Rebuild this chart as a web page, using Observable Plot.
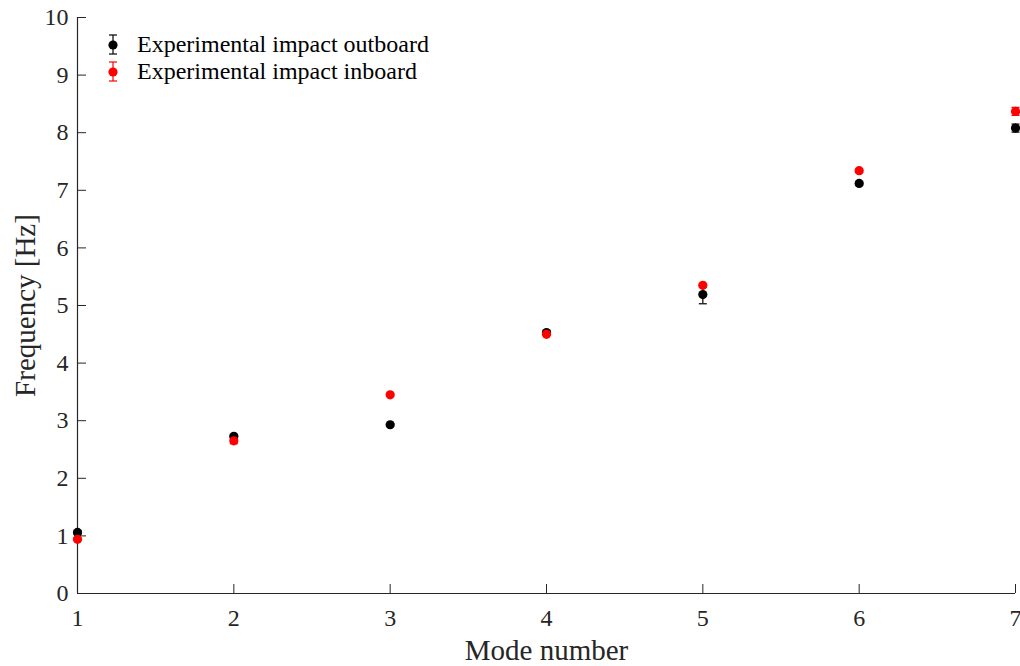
<!DOCTYPE html>
<html>
<head>
<meta charset="utf-8">
<script src="https://cdn.jsdelivr.net/npm/d3@7"></script>
<script src="https://cdn.jsdelivr.net/npm/@observablehq/plot@0.6"></script>
<style>
body { margin: 0; background: #fff; }
#wrap { position: relative; width: 1020px; height: 666px; font-family: "Liberation Serif", "Times New Roman", serif; }
#legend { position: absolute; left: 0; top: 0; }
</style>
</head>
<body>
<div id="wrap"></div>
<script>
const modes = [1, 2, 3, 4, 5, 6, 7];
const outboardFreq = [1.06, 2.73, 2.93, 4.53, 5.19, 7.12, 8.08];
const outboardErr = [0.03, 0.03, 0.02, 0.03, 0.16, 0.03, 0.07];
const inboardFreq = [0.94, 2.65, 3.45, 4.50, 5.35, 7.34, 8.37];
const inboardErr = [0.02, 0.05, 0.02, 0.02, 0.03, 0.03, 0.07];
const seriesNames = ["Experimental impact outboard", "Experimental impact inboard"];
const seriesColors = ["#000000", "#ff0000"];
const xTicks = [1, 2, 3, 4, 5, 6, 7];
const yTicks = [0, 1, 2, 3, 4, 5, 6, 7, 8, 9, 10];

const rows = [];
[[outboardFreq, outboardErr], [inboardFreq, inboardErr]].forEach(([f, e], s) => {
  modes.forEach((m, i) => rows.push({series: seriesNames[s], mode: m, freq: f[i], err: e[i]}));
});

const cap = {draw(ctx, size) { const r = Math.sqrt(size / Math.PI); ctx.moveTo(-r, 0); ctx.lineTo(r, 0); }};
const axisColor = "#262626";

const chart = Plot.plot({
  width: 1020,
  height: 666,
  marginLeft: 77,
  marginRight: 5,
  marginTop: 17,
  marginBottom: 73,
  style: {fontFamily: "'Liberation Serif', 'Times New Roman', serif", background: "#fff", color: axisColor},
  x: {domain: [1, 7], ticks: xTicks, tickFormat: d3.format("d"), label: null},
  y: {domain: [0, 10], ticks: yTicks, tickFormat: d3.format("d"), label: null},
  color: {domain: seriesNames, range: seriesColors},
  marks: [
    Plot.ruleX([1], {stroke: axisColor, strokeWidth: 1.2}),
    Plot.ruleY([0], {stroke: axisColor, strokeWidth: 1.2}),
    Plot.axisX({ticks: xTicks, tickSize: -9, tickPadding: 24, fontSize: 24, stroke: axisColor, fill: axisColor, tickFormat: d3.format("d"), label: null}),
    Plot.axisY({ticks: yTicks, tickSize: -9, tickPadding: 18, fontSize: 24, stroke: axisColor, fill: axisColor, tickFormat: d3.format("d"), label: null}),
    Plot.ruleX(rows, {x: "mode", y1: d => d.freq - d.err, y2: d => d.freq + d.err, stroke: "series", strokeWidth: 1.2}),
    Plot.dot(rows, {x: "mode", y: d => d.freq - d.err, symbol: cap, r: 4, stroke: "series", strokeWidth: 1.2}),
    Plot.dot(rows, {x: "mode", y: d => d.freq + d.err, symbol: cap, r: 4, stroke: "series", strokeWidth: 1.2}),
    Plot.dot(rows, {x: "mode", y: "freq", fill: "series", r: 4.6}),
    Plot.text(["Mode number"], {frameAnchor: "bottom", textAnchor: "middle", dy: 66, fontSize: 29, fill: axisColor}),
    Plot.text(["Frequency [Hz]"], {frameAnchor: "left", textAnchor: "middle", dx: -52, rotate: -90, fontSize: 29, fill: axisColor})
  ]
});
document.getElementById("wrap").appendChild(chart);

// legend
const ns = "http://www.w3.org/2000/svg";
const leg = document.createElementNS(ns, "svg");
leg.setAttribute("id", "legend");
leg.setAttribute("width", 460);
leg.setAttribute("height", 100);
seriesNames.forEach((name, i) => {
  const cy = 45 + i * 27;
  const c = seriesColors[i];
  const g = document.createElementNS(ns, "g");
  g.innerHTML = `<line x1="113" x2="113" y1="${cy - 10}" y2="${cy + 9}" stroke="${c}" stroke-width="1.2"/>
    <line x1="109" x2="117" y1="${cy - 10}" y2="${cy - 10}" stroke="${c}" stroke-width="1.2"/>
    <line x1="109" x2="117" y1="${cy + 9}" y2="${cy + 9}" stroke="${c}" stroke-width="1.2"/>
    <circle cx="113" cy="${cy}" r="4.6" fill="${c}"/>
    <text x="137" y="${cy + 7}" font-size="24" fill="#000" font-family="'Liberation Serif', serif">${name}</text>`;
  leg.appendChild(g);
});
document.getElementById("wrap").appendChild(leg);
</script>
</body>
</html>
